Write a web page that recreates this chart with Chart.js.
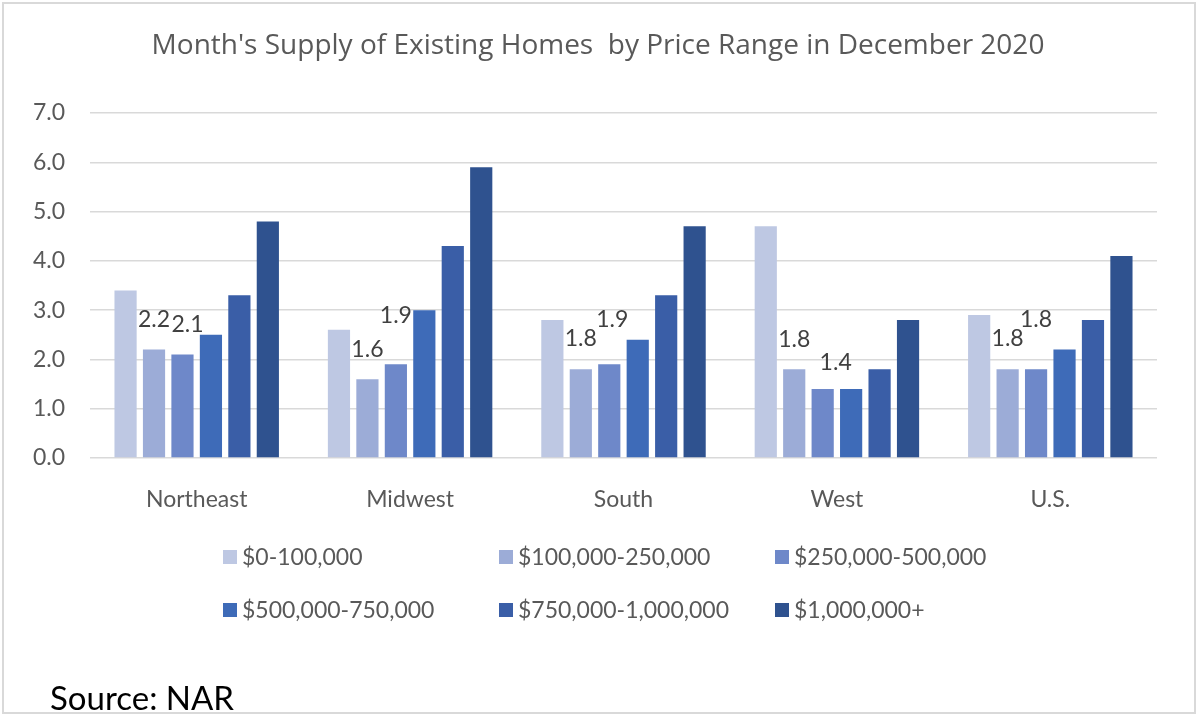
<!DOCTYPE html>
<html lang="en">
<head>
    <meta charset="UTF-8">
    <title>Month's Supply of Existing Homes by Price Range</title>
    <script src="https://cdn.jsdelivr.net/npm/chart.js"></script>
    <style>
        html, body {
            margin: 0;
            padding: 0;
            background: #ffffff;
        }

        /* Fixed size so the chart fills the 1200x724 window */
        #chart-container {
            width: 1200px;
            height: 724px;
            position: relative;
        }
    </style>
</head>
<body>

    <div id="chart-container">
        <canvas id="supplyChart"></canvas>
    </div>

    <script>
        // Regions along the x axis
        const regions = ['Northeast', 'Midwest', 'South', 'West', 'U.S.'];

        // Price ranges (one series each)
        const priceRanges = [
            '$0-100,000',
            '$100,000-250,000',
            '$250,000-500,000',
            '$500,000-750,000',
            '$750,000-1,000,000',
            '$1,000,000+'
        ];

        // Months of supply
        const supply0to100k    = [3.4, 2.6, 2.8, 4.7, 2.9];
        const supply100to250k  = [2.2, 1.6, 1.8, 1.8, 1.8];
        const supply250to500k  = [2.1, 1.9, 1.9, 1.4, 1.8];
        const supply500to750k  = [2.5, 3.0, 2.4, 1.4, 2.2];
        const supply750kto1m   = [3.3, 4.3, 3.3, 1.8, 2.8];
        const supply1mPlus     = [4.8, 5.9, 4.7, 2.8, 4.1];

        // Value axis
        const yMin = 0;
        const yMax = 7;
        const yStep = 1;

        const chartTitle = "Month's Supply of Existing Homes  by Price Range in December 2020";
        const sourceNote = 'Source: NAR';

        const seriesValues = [
            supply0to100k, supply100to250k, supply250to500k,
            supply500to750k, supply750kto1m, supply1mPlus
        ];
        const seriesColors = ['#bec8e3', '#9cacd7', '#6e88c9', '#3e6bb8', '#3a5ea7', '#2f528f'];

        // Only these series carry value labels (as in the original)
        const labelledSeries = [1, 2];
        // how far each label sits above its bar top [series1, series2], plus sideways nudge
        const labelLift = [[30, 30], [30, 49], [31, 45], [30, 26], [31, 50]];
        const labelNudge = [[0, 5], [0, 0], [0, 3], [0, 13], [0, 0]];

        const textGray = '#595959';

        // white page with a thin grey frame, and the title (centred on the page, not the plot)
        const framePlugin = {
            id: 'frame',
            beforeDraw(chart) {
                const ctx = chart.ctx;
                ctx.save();
                ctx.fillStyle = '#ffffff';
                ctx.fillRect(0, 0, chart.width, chart.height);
                ctx.strokeStyle = '#d9d9d9';
                ctx.lineWidth = 2;
                ctx.strokeRect(3, 3, 1192, 710);

                ctx.font = '28px "Open Sans"';
                ctx.fillStyle = textGray;
                ctx.textAlign = 'center';
                ctx.textBaseline = 'middle';
                ctx.fillText(chartTitle, 598, 46);
                ctx.restore();
            }
        };

        // data labels on the two middle price ranges
        const valueLabelPlugin = {
            id: 'valueLabels',
            afterDatasetsDraw(chart) {
                const ctx = chart.ctx;
                ctx.save();
                ctx.font = '23px Lato';
                ctx.fillStyle = '#404040';
                ctx.textAlign = 'center';
                ctx.textBaseline = 'middle';
                labelledSeries.forEach((dsIndex, k) => {
                    const meta = chart.getDatasetMeta(dsIndex);
                    meta.data.forEach((bar, i) => {
                        const value = chart.data.datasets[dsIndex].data[i];
                        ctx.fillText(value.toFixed(1), bar.x + labelNudge[i][k], bar.y - labelLift[i][k]);
                    });
                });
                ctx.restore();
            }
        };

        // legend laid out in equal columns, plus the source note
        const legendPlugin = {
            id: 'gridLegend',
            afterDraw(chart) {
                const ctx = chart.ctx;
                const colLeft = 223;
                const colWidth = 276;
                const rowCenters = [557, 610];
                ctx.save();
                ctx.font = '23px Lato';
                ctx.textBaseline = 'middle';
                chart.data.datasets.forEach((ds, i) => {
                    const x = colLeft + (i % 3) * colWidth;
                    const y = rowCenters[Math.floor(i / 3)];
                    ctx.fillStyle = ds.backgroundColor;
                    ctx.fillRect(x, y - 7, 14, 14);
                    ctx.fillStyle = textGray;
                    ctx.fillText(ds.label, x + 19, y + 1);
                });

                ctx.font = '33px Lato';
                ctx.fillStyle = '#000000';
                ctx.textBaseline = 'alphabetic';
                ctx.fillText(sourceNote, 50, 710);
                ctx.restore();
            }
        };

        Chart.defaults.font.family = 'Lato';
        Chart.defaults.color = textGray;

        const ctx = document.getElementById('supplyChart').getContext('2d');
        new Chart(ctx, {
            type: 'bar',
            data: {
                labels: regions,
                datasets: priceRanges.map((name, i) => ({
                    label: name,
                    data: seriesValues[i],
                    backgroundColor: seriesColors[i],
                    borderWidth: 0,
                    categoryPercentage: 0.8,
                    barPercentage: 0.78
                }))
            },
            options: {
                responsive: true,
                maintainAspectRatio: false,
                animation: false,
                layout: {
                    padding: { left: 0, right: 43, top: 113, bottom: 206 }
                },
                plugins: {
                    legend: { display: false },
                    tooltip: { enabled: false },
                    title: { display: false }
                },
                scales: {
                    x: {
                        grid: { display: false },
                        border: { display: false },
                        ticks: {
                            color: textGray,
                            font: { size: 23 },
                            padding: 20
                        },
                        afterFit(scale) {
                            scale.height = 60;
                        }
                    },
                    y: {
                        min: yMin,
                        max: yMax,
                        grid: {
                            color: '#d9d9d9',
                            lineWidth: 1.5,
                            drawTicks: false
                        },
                        border: { display: false },
                        ticks: {
                            stepSize: yStep,
                            color: textGray,
                            font: { size: 23 },
                            padding: 25,
                            callback: value => value.toFixed(1)
                        },
                        afterFit(scale) {
                            scale.width = 90;
                        }
                    }
                }
            },
            plugins: [framePlugin, valueLabelPlugin, legendPlugin]
        });
    </script>
</body>
</html>
